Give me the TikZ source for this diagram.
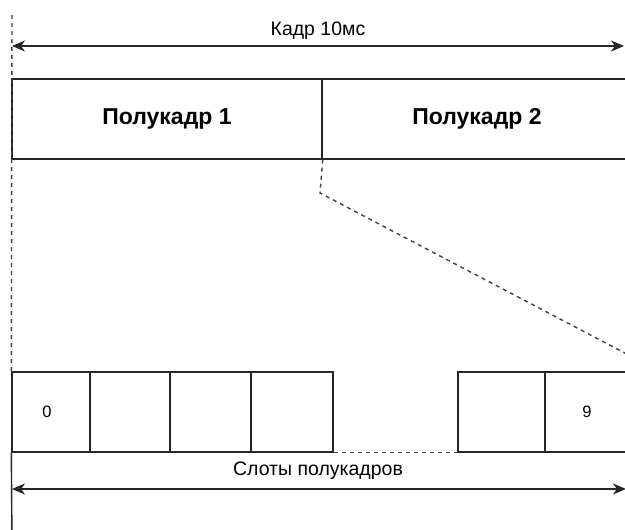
\documentclass[tikz,border=0pt]{standalone}
\usepackage{fontspec}
\setmainfont{Liberation Sans}
\usetikzlibrary{arrows.meta}
\begin{document}
\begin{tikzpicture}[x=1pt,y=-1pt,
  ln/.style={line width=1.4pt,draw=black!85},
  dsh/.style={line width=1.4pt,draw=black!75,dash pattern=on 4pt off 4pt},
  boxn/.style={ln,rectangle,inner sep=0pt,minimum height=80pt},
  dim/.style={ln,{Stealth[length=13pt,width=11pt,inset=4pt]}-{Stealth[length=13pt,width=11pt,inset=4pt]}},
  lbl/.style={font=\fontsize{19.5}{22}\selectfont},
  hlbl/.style={font=\fontsize{23}{26}\selectfont\bfseries},
  slbl/.style={font=\fontsize{16.5}{19}\selectfont}]
\useasboundingbox (0,0) rectangle (625,530);
% top half-frames
\node[boxn,minimum width=310pt,hlbl] (hf1) at (167,119) {Полукадр 1};
\node[boxn,minimum width=310pt,hlbl] (hf2) at (477,119) {Полукадр 2};
% slots
\node[boxn,minimum width=78pt,slbl] (s0) at (51,412) {};
\node[slbl] (t0) at (47,412) {0};
\node[boxn,minimum width=80pt] (s1) at (130,412) {};
\node[boxn,minimum width=81pt] (s2) at (210.5,412) {};
\node[boxn,minimum width=82pt] (s3) at (292,412) {};
\node[boxn,minimum width=87pt] (s8) at (501.5,412) {};
\node[boxn,minimum width=87pt] (s9) at (588.5,412) {};
\node[slbl] (t9) at (587,412) {9};
% labels
\node[lbl] (lt) at (318,31) {Кадр 10мс};
\node[lbl] (lb) at (318,471) {Слоты полукадров};
% coordinates
\coordinate (ta) at (12,46);
\coordinate (tb) at (624,46);
\coordinate (ba) at (12,489);
\coordinate (bb) at (626,489);
\coordinate (dtop) at (12,15);
\coordinate (lbot) at (12,540);
\coordinate (bend) at (320,193);
\coordinate (dend) at (661,372);
% dimension arrows
\draw[dim] (ta) -- (tb);
\draw[dim] (ba) -- (bb);
% left guide
\draw[dsh] (dtop) -- (s0.north west);
\draw[ln] (s0.south west) -- (lbot);
% zoom dashed lines
\draw[dsh] (hf1.south east) -- (bend) -- (dend);
\draw[dsh] (s3.south east) -- (s8.south west);
\end{tikzpicture}
\end{document}
